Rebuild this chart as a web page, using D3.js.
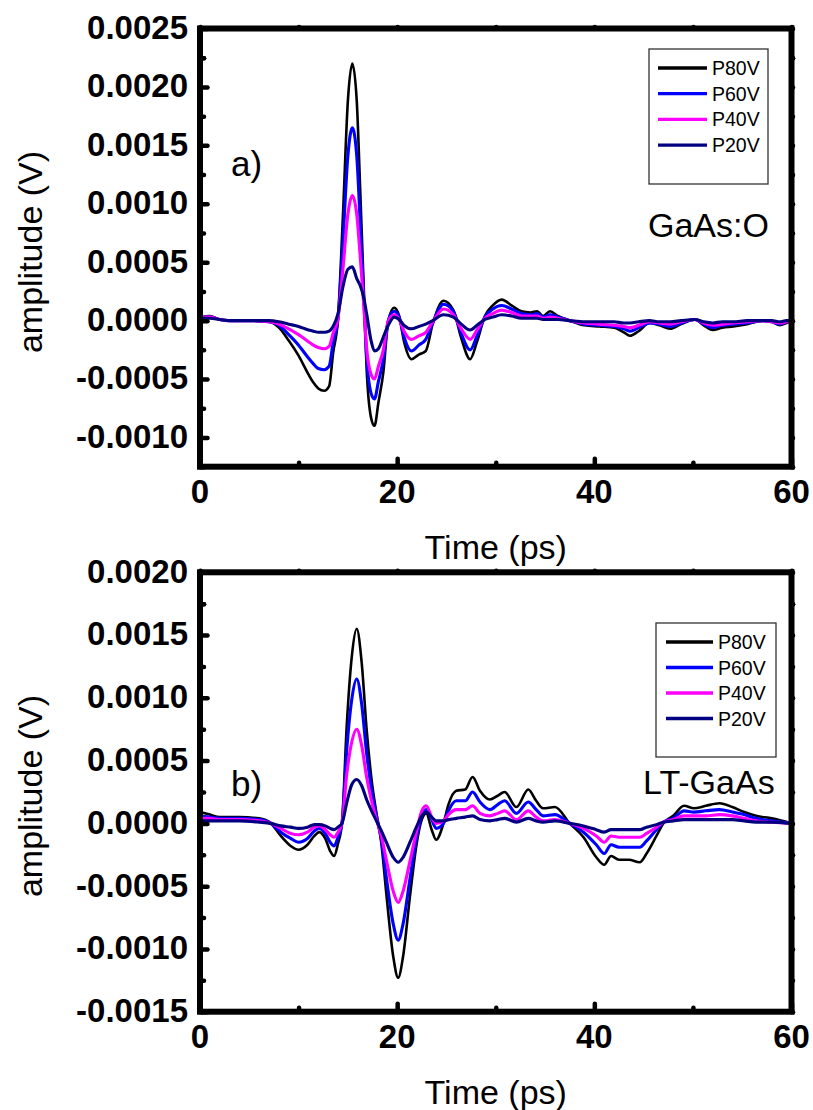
<!DOCTYPE html>
<html>
<head>
<meta charset="utf-8">
<script src="https://cdn.jsdelivr.net/npm/d3@7"></script>
<style>
  html, body { margin: 0; padding: 0; background: #ffffff; }
  svg { display: block; }
  text { font-family: "Liberation Sans", Arial, Helvetica, sans-serif; fill: #000; }
</style>
</head>
<body>
<svg id="chart" width="813" height="1110"></svg>
<script>
// ---- Series labels and colours ----
const seriesNames = ["P80V", "P60V", "P40V", "P20V"];
const seriesColors = ["#000000", "#0000ff", "#ff00ff", "#000080"];

// ---- Axis ticks ----
const xTicks = [0, 20, 40, 60];
const xMinorTicks = [10, 30, 50];
const yTicksA = [-0.0010, -0.0005, 0.0000, 0.0005, 0.0010, 0.0015, 0.0020, 0.0025];
const yTicksB = [-0.0015, -0.0010, -0.0005, 0.0000, 0.0005, 0.0010, 0.0015, 0.0020];

// ---- Panel a) GaAs:O : time (ps) and amplitude (V) ----
const timeA = [0, 1, 2, 3, 5, 7, 8, 9, 10, 11,
  11.5, 12, 12.6, 13.1, 13.5, 14.0, 14.5, 15.0, 15.45, 15.9,
  16.25, 16.6, 16.9, 17.35, 17.7, 18.1, 18.6, 19.1, 19.7, 20.2,
  20.7, 21.45, 22.2, 22.9, 23.6, 24.7, 25.7, 26.5, 27.4, 28.1,
  28.9, 29.7, 30.6, 31.6, 32.6, 33.5, 34.2, 34.8, 35.5, 36.3,
  37.5, 39, 40.5, 42, 43, 43.6, 44.5, 45.6, 46.6, 47.7,
  48.8, 50.2, 51.1, 52, 53, 54.1, 55.5, 57.1, 58, 58.8,
  59.5, 60];
const ampA80 = [0.00003, 0.00004, 0.00001, 0, 0, -0.00001, -0.00006, -0.00017, -0.00030, -0.00046,
  -0.00053, -0.00058, -0.00060, -0.00056, -0.00028, 0.00002, 0.00090, 0.00188, 0.00220, 0.00188,
  0.00112, 0.00030, -0.00041, -0.00083, -0.00090, -0.00070, -0.00044, 0.00000, 0.00011, 0.00004,
  -0.00018, -0.00033, -0.00029, -0.00026, -0.00003, 0.00017, 0.00009, -0.00015, -0.00033, -0.00018,
  0.00004, 0.00013, 0.00018, 0.00013, 0.00008, 0.00007, 0.00008, 0.00004, 0.00008, 0.00004,
  0.00000, -0.00004, -0.00005, -0.00006, -0.00010, -0.00013, -0.00009, -0.00002, -0.00004, -0.00007,
  -0.00003, 0.00001, -0.00004, -0.00008, -0.00006, -0.00005, -0.00003, 0.00000, -0.00001, -0.00004,
  -0.00002, 0.00000];
const ampA60 = [0.00003, 0.00003, 0.00001, 0, 0, -0.00001, -0.00004, -0.00012, -0.00021, -0.00032,
  -0.00037, -0.00041, -0.00042, -0.00039, -0.00019, 0.00002, 0.00068, 0.00141, 0.00165, 0.00141,
  0.00084, 0.00022, -0.00031, -0.00062, -0.00067, -0.00052, -0.00033, 0.00000, 0.00008, 0.00003,
  -0.00014, -0.00026, -0.00021, -0.00016, -0.00002, 0.00014, 0.00008, -0.00011, -0.00025, -0.00013,
  0.00003, 0.00010, 0.00013, 0.00010, 0.00006, 0.00005, 0.00006, 0.00003, 0.00005, 0.00003,
  0.00000, -0.00003, -0.00004, -0.00005, -0.00007, -0.00009, -0.00006, -0.00002, -0.00003, -0.00005,
  -0.00002, 0.00001, -0.00003, -0.00006, -0.00004, -0.00003, -0.00002, 0.00000, -0.00001, -0.00003,
  -0.00001, 0.00000];
const ampA40 = [0.00003, 0.00003, 0.00001, 0, 0, -0.00001, -0.00003, -0.00007, -0.00012, -0.00018,
  -0.00021, -0.00023, -0.00024, -0.00022, -0.00011, 0.00002, 0.00044, 0.00091, 0.00107, 0.00091,
  0.00055, 0.00015, -0.00023, -0.00046, -0.00050, -0.00039, -0.00025, 0.00000, 0.00005, 0.00001,
  -0.00009, -0.00016, -0.00013, -0.00010, -0.00001, 0.00010, 0.00005, -0.00007, -0.00016, -0.00008,
  0.00002, 0.00006, 0.00009, 0.00007, 0.00004, 0.00004, 0.00004, 0.00002, 0.00003, 0.00002,
  0.00000, -0.00002, -0.00003, -0.00004, -0.00005, -0.00006, -0.00004, -0.00001, -0.00002, -0.00003,
  -0.00001, 0.00001, -0.00002, -0.00004, -0.00003, -0.00002, -0.00001, 0.00000, -0.00001, -0.00002,
  -0.00001, 0.00000];
const ampA20 = [0.00002, 0.00002, 0.00001, 0, 0, 0, -0.00001, -0.00003, -0.00005, -0.00008,
  -0.00009, -0.00010, -0.00010, -0.00009, -0.00005, 0.00006, 0.00029, 0.00044, 0.00046, 0.00036,
  0.00030, 0.00020, 0.00006, -0.00017, -0.00026, -0.00024, -0.00014, -0.00004, 0.00003, 0.00001,
  -0.00004, -0.00007, -0.00005, -0.00003, 0.00000, 0.00005, 0.00003, -0.00003, -0.00008, -0.00004,
  0.00001, 0.00003, 0.00005, 0.00004, 0.00002, 0.00002, 0.00002, 0.00001, 0.00001, 0.00001,
  0.00000, -0.00001, -0.00001, -0.00001, -0.00002, -0.00002, -0.00001, 0.00000, -0.00001, -0.00001,
  0.00000, 0.00001, -0.00001, -0.00002, -0.00001, -0.00001, 0.00000, 0.00000, 0.00000, -0.00001,
  0.00000, 0.00000];

// ---- Panel b) LT-GaAs : time (ps) and amplitude (V) ----
const timeB = [0, 1, 2, 4, 6, 7.2, 8.2, 9.2, 10.0, 10.9,
  11.6, 12.1, 12.7, 13.2, 13.6, 14.0, 14.4, 14.9, 15.4, 15.9,
  16.4, 16.9, 17.4, 17.9, 18.4, 18.9, 19.6, 20.1, 20.6, 21.3,
  22.0, 22.5, 22.95, 23.5, 23.95, 24.7, 25.2, 26.0, 26.9, 27.65,
  28.4, 29.4, 30.2, 30.9, 32.1, 33.3, 34.1, 34.8, 36.0, 37.5,
  38.9, 40.2, 41.0, 41.7, 42.5, 43.5, 44.6, 45.3, 46.3, 47.0,
  48.0, 49.1, 50.1, 51.3, 52.7, 54.0, 55.2, 56.4, 58.0, 60];
const ampB80 = [0.00009, 0.00007, 0.00005, 0.00005, 0.00004, 0.00000, -0.00010, -0.00018, -0.00021, -0.00017,
  -0.00010, -0.00007, -0.00012, -0.00022, -0.00026, -0.00016, 0.00000, 0.00080, 0.00133, 0.00155,
  0.00128, 0.00075, 0.00035, 0.00008, -0.00016, -0.00056, -0.00106, -0.00123, -0.00106, -0.00058,
  -0.00015, 0.00003, 0.00008, -0.00005, -0.00013, 0.00000, 0.00015, 0.00026, 0.00027, 0.00037,
  0.00026, 0.00019, 0.00022, 0.00025, 0.00013, 0.00027, 0.00018, 0.00012, 0.00013, 0.00000,
  -0.00011, -0.00027, -0.00033, -0.00026, -0.00029, -0.00029, -0.00031, -0.00024, -0.00010, 0.00000,
  0.00006, 0.00014, 0.00012, 0.00014, 0.00016, 0.00013, 0.00009, 0.00006, 0.00004, 0.00000];
const ampB60 = [0.00006, 0.00005, 0.00004, 0.00004, 0.00003, 0.00000, -0.00007, -0.00012, -0.00015, -0.00012,
  -0.00006, -0.00004, -0.00008, -0.00015, -0.00018, -0.00011, 0.00000, 0.00060, 0.00099, 0.00115,
  0.00095, 0.00056, 0.00027, 0.00006, -0.00013, -0.00043, -0.00080, -0.00093, -0.00080, -0.00044,
  -0.00010, 0.00006, 0.00011, 0.00003, -0.00004, 0.00000, 0.00010, 0.00018, 0.00018, 0.00025,
  0.00017, 0.00011, 0.00015, 0.00018, 0.00008, 0.00017, 0.00011, 0.00006, 0.00007, 0.00000,
  -0.00007, -0.00017, -0.00024, -0.00017, -0.00019, -0.00019, -0.00019, -0.00014, -0.00005, 0.00001,
  0.00004, 0.00010, 0.00009, 0.00010, 0.00011, 0.00009, 0.00007, 0.00004, 0.00002, 0.00000];
const ampB40 = [0.00004, 0.00004, 0.00003, 0.00003, 0.00002, 0.00000, -0.00004, -0.00008, -0.00009, -0.00007,
  -0.00003, -0.00002, -0.00005, -0.00009, -0.00011, -0.00007, 0.00000, 0.00040, 0.00065, 0.00075,
  0.00062, 0.00037, 0.00018, 0.00003, -0.00010, -0.00029, -0.00054, -0.00063, -0.00054, -0.00030,
  -0.00005, 0.00010, 0.00014, 0.00005, 0.00000, 0.00002, 0.00007, 0.00011, 0.00011, 0.00014,
  0.00008, 0.00006, 0.00008, 0.00010, 0.00003, 0.00010, 0.00005, 0.00002, 0.00003, 0.00000,
  -0.00004, -0.00010, -0.00015, -0.00010, -0.00011, -0.00011, -0.00011, -0.00008, -0.00003, 0.00001,
  0.00003, 0.00006, 0.00006, 0.00006, 0.00007, 0.00006, 0.00004, 0.00002, 0.00001, 0.00000];
const ampB20 = [0.00002, 0.00002, 0.00002, 0.00002, 0.00001, 0.00000, -0.00002, -0.00003, -0.00004, -0.00003,
  -0.00001, -0.00001, -0.00002, -0.00004, -0.00005, -0.00003, 0.00000, 0.00017, 0.00031, 0.00035,
  0.00030, 0.00019, 0.00010, 0.00002, -0.00006, -0.00015, -0.00027, -0.00031, -0.00027, -0.00015,
  -0.00002, 0.00006, 0.00009, 0.00005, 0.00002, 0.00002, 0.00003, 0.00004, 0.00005, 0.00006,
  0.00003, 0.00002, 0.00003, 0.00004, 0.00001, 0.00004, 0.00002, 0.00001, 0.00002, 0.00000,
  -0.00002, -0.00005, -0.00007, -0.00005, -0.00005, -0.00005, -0.00005, -0.00003, -0.00001, 0.00001,
  0.00002, 0.00003, 0.00003, 0.00003, 0.00003, 0.00003, 0.00002, 0.00001, 0.00001, 0.00000];

// ---- Layout ----
const svg = d3.select("#chart");
svg.append("rect").attr("width", 813).attr("height", 1110).attr("fill", "#fff");

const plotLeft = 200, plotRight = 791.5;

const panels = [
  {
    time: timeA, series: [ampA80, ampA60, ampA40, ampA20],
    yDomain: [-0.00125, 0.0025], yTicks: yTicksA,
    top: 28.5, bottom: 466.7,
    tag: "a)", tagX: 231, tagY: 176,
    material: "GaAs:O", matX: 648, matY: 236.5,
    legend: { x: 649, y: 49, w: 119, h: 135, lineX0: 658, lineX1: 707, textX: 712, row0: 68, rowStep: 25.7 },
    yTitleY: 252
  },
  {
    time: timeB, series: [ampB80, ampB60, ampB40, ampB20],
    yDomain: [-0.0015, 0.0020], yTicks: yTicksB,
    top: 572.3, bottom: 1011.7,
    tag: "b)", tagX: 231, tagY: 796,
    material: "LT-GaAs", matX: 643, matY: 793.5,
    legend: { x: 656, y: 623, w: 120, h: 134, lineX0: 666, lineX1: 713, textX: 718, row0: 642, rowStep: 25.5 },
    yTitleY: 796
  }
];

const fmt = d => d.toFixed(4);

panels.forEach(p => {
  const x = d3.scaleLinear().domain([0, 60]).range([plotLeft, plotRight]);
  const y = d3.scaleLinear().domain(p.yDomain).range([p.bottom, p.top]);
  const g = svg.append("g");

  // minor y ticks halfway between the labelled ones
  const yMinor = [];
  for (let i = 0; i < p.yTicks.length; i++) {
    const v = p.yTicks[i] - 0.00025;
    if (v >= p.yDomain[0] - 1e-9) yMinor.push(v);
  }
  yMinor.push(p.yTicks[p.yTicks.length - 1] - 0.00025);

  // data curves
  const line = d3.line()
    .x((d, i) => x(p.time[i]))
    .y(d => y(d))
    .curve(d3.curveMonotoneX);
  p.series.forEach((vals, k) => {
    g.append("path")
      .attr("d", line(vals))
      .attr("fill", "none")
      .attr("stroke", seriesColors[k])
      .attr("stroke-width", k === 0 ? 2.6 : 3.1)
      .attr("stroke-linejoin", "round");
  });

  // ticks: inward on left and bottom, short marks on right and top
  const tickStyle = sel => {
    sel.select(".domain").remove();
    sel.selectAll(".tick line")
      .attr("stroke", "#000").attr("stroke-width", 4.5).attr("stroke-linecap", "round");
  };
  g.append("g").attr("transform", `translate(${plotLeft},0)`)
    .call(d3.axisLeft(y).tickValues(p.yTicks).tickSize(-7.5).tickFormat(""))
    .call(tickStyle);
  g.append("g").attr("transform", `translate(${plotLeft},0)`)
    .call(d3.axisLeft(y).tickValues(yMinor).tickSize(-4).tickFormat(""))
    .call(tickStyle);
  g.append("g").attr("transform", `translate(${plotRight},0)`)
    .call(d3.axisRight(y).tickValues(p.yTicks.concat(yMinor)).tickSize(1.5).tickFormat(""))
    .call(tickStyle);
  g.append("g").attr("transform", `translate(0,${p.bottom})`)
    .call(d3.axisBottom(x).tickValues(xTicks).tickSize(-8).tickFormat(""))
    .call(tickStyle);
  g.append("g").attr("transform", `translate(0,${p.bottom})`)
    .call(d3.axisBottom(x).tickValues(xMinorTicks).tickSize(-4).tickFormat(""))
    .call(tickStyle);
  g.append("g").attr("transform", `translate(0,${p.top})`)
    .call(d3.axisTop(x).tickValues(xTicks.concat(xMinorTicks)).tickSize(1.5).tickFormat(""))
    .call(tickStyle);

  // frame
  g.append("rect")
    .attr("x", plotLeft).attr("y", p.top)
    .attr("width", plotRight - plotLeft).attr("height", p.bottom - p.top)
    .attr("fill", "none").attr("stroke", "#000").attr("stroke-width", 6);

  // tick labels
  g.selectAll(".ylab").data(p.yTicks).join("text")
    .attr("x", 188).attr("y", d => y(d) - 1.5)
    .attr("dy", "0.36em")
    .attr("text-anchor", "end")
    .attr("font-size", 33).attr("font-weight", "bold")
    .text(fmt);
  g.selectAll(".xlab").data(xTicks).join("text")
    .attr("x", d => x(d)).attr("y", p.bottom + 36.5)
    .attr("text-anchor", "middle")
    .attr("font-size", 33).attr("font-weight", "bold")
    .text(d => d);

  // axis titles
  g.append("text")
    .attr("x", (plotLeft + plotRight) / 2).attr("y", p.bottom + 92)
    .attr("text-anchor", "middle").attr("font-size", 34)
    .text("Time (ps)");
  g.append("text")
    .attr("transform", `translate(42,${p.yTitleY}) rotate(-90)`)
    .attr("text-anchor", "middle").attr("font-size", 34)
    .text("amplitude (V)");

  // panel annotations
  g.append("text").attr("x", p.tagX).attr("y", p.tagY).attr("font-size", 35).text(p.tag);
  g.append("text").attr("x", p.matX).attr("y", p.matY).attr("font-size", 34).text(p.material);

  // legend
  const L = p.legend;
  const lg = g.append("g");
  lg.append("rect").attr("x", L.x).attr("y", L.y).attr("width", L.w).attr("height", L.h)
    .attr("fill", "#fff").attr("stroke", "#333").attr("stroke-width", 1.3);
  seriesNames.forEach((name, k) => {
    const ry = L.row0 + k * L.rowStep;
    lg.append("line").attr("x1", L.lineX0).attr("x2", L.lineX1).attr("y1", ry).attr("y2", ry)
      .attr("stroke", seriesColors[k]).attr("stroke-width", 3.3);
    lg.append("text").attr("x", L.textX).attr("y", ry + 7).attr("font-size", 19.5).text(name);
  });
});
</script>
</body>
</html>
